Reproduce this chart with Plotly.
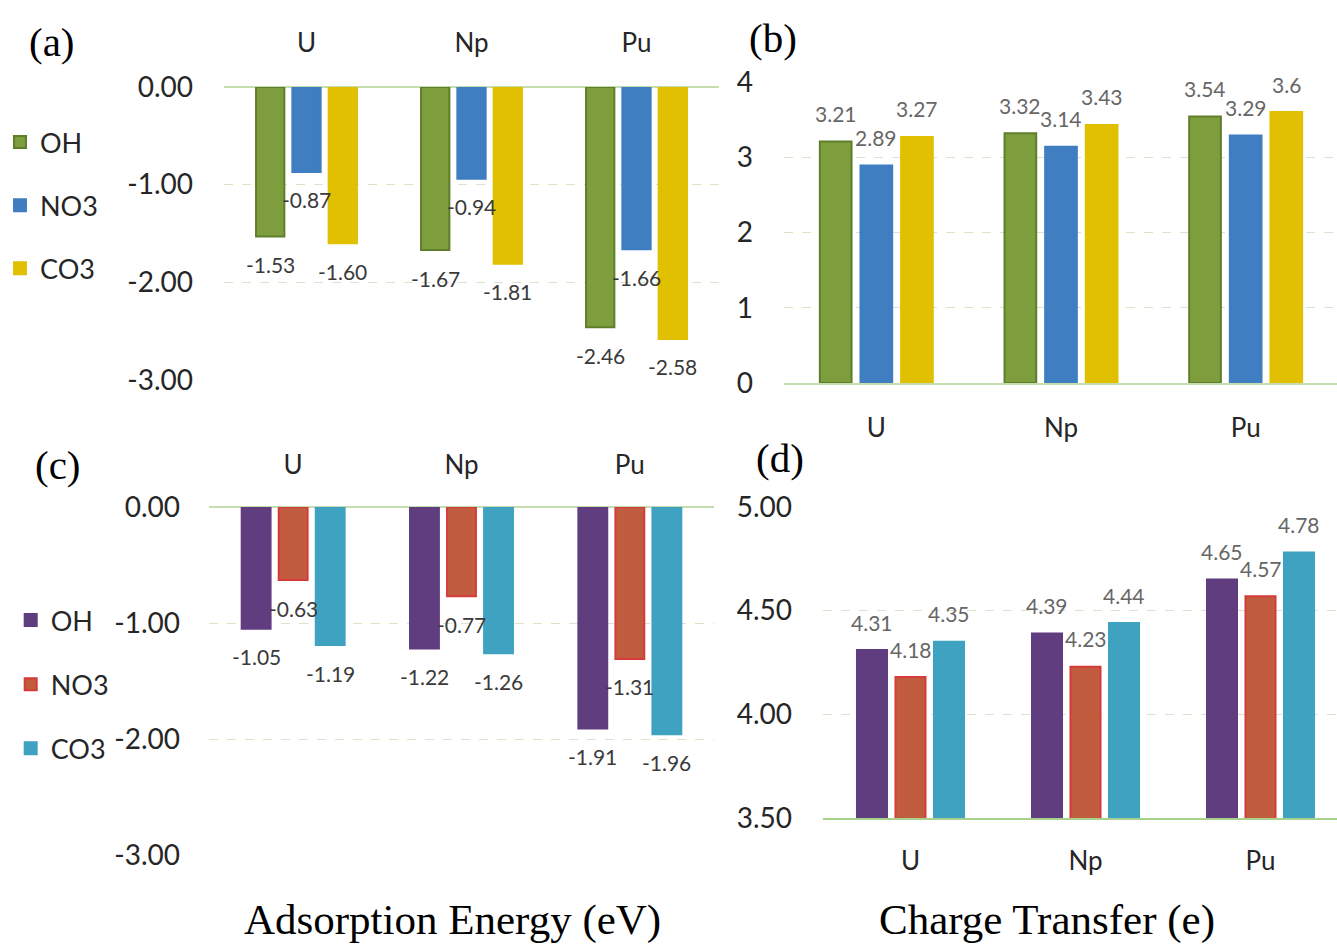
import plotly.graph_objects as go

W, H = 1337, 945

categories = ["U", "Np", "Pu"]
series_names = ["OH", "NO3", "CO3"]

# (a) Adsorption energy, set 1
ads1_OH = [-1.53, -1.67, -2.46]
ads1_NO3 = [-0.87, -0.94, -1.66]
ads1_CO3 = [-1.60, -1.81, -2.58]
# (b) Charge transfer, set 1
ct1_OH = [3.21, 3.32, 3.54]
ct1_NO3 = [2.89, 3.14, 3.29]
ct1_CO3 = [3.27, 3.43, 3.60]
# (c) Adsorption energy, set 2
ads2_OH = [-1.05, -1.22, -1.91]
ads2_NO3 = [-0.63, -0.77, -1.31]
ads2_CO3 = [-1.19, -1.26, -1.96]
# (d) Charge transfer, set 2
ct2_OH = [4.31, 4.39, 4.65]
ct2_NO3 = [4.18, 4.23, 4.57]
ct2_CO3 = [4.35, 4.44, 4.78]

ticks_a = [0, -1, -2, -3]
ticks_a_text = ["0.00", "-1.00", "-2.00", "-3.00"]
ticks_b = [0, 1, 2, 3, 4]
ticks_b_text = ["0", "1", "2", "3", "4"]
ticks_d = [3.5, 4.0, 4.5, 5.0]
ticks_d_text = ["3.50", "4.00", "4.50", "5.00"]

colors1 = ["#7E9E3D", "#3F7EC1", "#E0C000"]
lines1 = ["#5F7E2C", "#3F7EC1", "#E0C000"]
colors2 = ["#5F3D7F", "#C25C3F", "#3FA2C1"]
lines2 = ["#5F3D7F", "#D53B3B", "#3FA2C1"]

SANS = "Lato"
SERIF = "Liberation Serif"
BARGAP = 0.34
BARGROUPGAP = 0.22

# panel pixel boxes: (left, right, top, bottom)
box = {
    "a": (224, 719, 87, 380),
    "b": (784, 1337, 82, 383),
    "c": (209, 714, 507, 855),
    "d": (823, 1337, 507, 818),
}
xranges = {
    "a": [-0.5, 2.5],
    "b": [-0.5, 2.5 - 1 / 185],
    "c": [-0.5, 2.5],
    "d": [-0.5, 2.5 - 11 / 175],
}
spacing = {"a": 165, "b": 185, "c": 168.5, "d": 175}


def xd(k):
    l, r, t, b = box[k]
    return [l / W, r / W]


def yd(k):
    l, r, t, b = box[k]
    return [1 - b / H, 1 - t / H]


fig = go.Figure()

panels = [
    ("a", "x", "y", [ads1_OH, ads1_NO3, ads1_CO3], colors1, lines1, "legend", True),
    ("b", "x2", "y2", [ct1_OH, ct1_NO3, ct1_CO3], colors1, lines1, "legend", False),
    ("c", "x3", "y3", [ads2_OH, ads2_NO3, ads2_CO3], colors2, lines2, "legend2", True),
    ("d", "x4", "y4", [ct2_OH, ct2_NO3, ct2_CO3], colors2, lines2, "legend2", False),
]

annotations = []
for key, xa, ya, data, cols, lcols, leg, show in panels:
    slot = spacing[key] * (1 - BARGAP) / 3
    for i, (name, vals) in enumerate(zip(series_names, data)):
        fig.add_trace(go.Bar(
            x=categories, y=vals, name=name,
            marker=dict(color=cols[i], line=dict(color=lcols[i], width=2)),
            xaxis=xa, yaxis=ya, legend=leg, showlegend=show,
            legendgroup=f"{leg}_{name}",
        ))
        negative = key in ("a", "c")
        for c, v in zip(categories, vals):
            if key == "b":
                txt = f"{v:g}"
            else:
                txt = f"{v:.2f}"
            annotations.append(dict(
                x=c, y=v, xref=xa, yref=ya, text=txt, showarrow=False,
                xshift=(i - 1) * slot, yshift=-28 if negative else 28,
                font=dict(family=SANS, size=21,
                          color="#3A3A3A" if negative else "#666666"),
            ))

grid_color = "#DCE3C8"
base_color = "#C6DDB0"

axis_common = dict(
    type="category", showgrid=False, ticks="", zeroline=False,
    automargin=False,
    tickfont=dict(family=SANS, size=26, color="#262626"),
)
yfont = dict(family=SANS, size=28, color="#262626")

fig.update_layout(
    width=W, height=H,
    margin=dict(l=0, r=0, t=0, b=0, autoexpand=False),
    paper_bgcolor="white", plot_bgcolor="white",
    barmode="group", bargap=BARGAP, bargroupgap=BARGROUPGAP,
    xaxis=dict(axis_common, domain=xd("a"), anchor="y", side="top",
               range=xranges["a"], showline=False, ticklabelstandoff=29),
    xaxis2=dict(axis_common, domain=xd("b"), anchor="y2",
                range=xranges["b"], showline=True, linecolor=base_color,
                linewidth=1.5, ticklabelstandoff=21),
    xaxis3=dict(axis_common, domain=xd("c"), anchor="y3", side="top",
                range=xranges["c"], showline=False, ticklabelstandoff=27),
    xaxis4=dict(axis_common, domain=xd("d"), anchor="y4",
                range=xranges["d"], showline=True, linecolor="#A9D18E",
                linewidth=1.5, ticklabelstandoff=19),
    yaxis=dict(domain=yd("a"), anchor="x", range=[-3, 0], tickvals=ticks_a,
               ticktext=ticks_a_text, automargin=False,
               showgrid=True, gridcolor=grid_color,
               griddash="dash", gridwidth=1, zeroline=True,
               zerolinecolor=base_color, zerolinewidth=1.5,
               tickfont=yfont, ticklabelstandoff=30),
    yaxis2=dict(domain=yd("b"), anchor="x2", range=[0, 4], tickvals=ticks_b,
                ticktext=ticks_b_text, automargin=False,
                showgrid=True, gridcolor=grid_color, griddash="dash",
                zeroline=False, tickfont=yfont, ticklabelstandoff=30),
    yaxis3=dict(domain=yd("c"), anchor="x3", range=[-3, 0], tickvals=ticks_a,
                ticktext=ticks_a_text, automargin=False,
                showgrid=True, gridcolor=grid_color,
                griddash="dash", gridwidth=1, zeroline=True,
                zerolinecolor=base_color, zerolinewidth=1.5,
                tickfont=yfont, ticklabelstandoff=28),
    yaxis4=dict(domain=yd("d"), anchor="x4", range=[3.5, 5], tickvals=ticks_d,
                ticktext=ticks_d_text, automargin=False,
                showgrid=True, gridcolor=grid_color,
                griddash="dash", zeroline=False,
                tickfont=yfont, ticklabelstandoff=30),
    legend=dict(x=0, xanchor="left", y=1 - 118 / H, yanchor="top",
                font=dict(family=SANS, size=27, color="#262626"),
                tracegroupgap=25, bgcolor="rgba(0,0,0,0)"),
    legend2=dict(x=0.008, xanchor="left", y=1 - 596 / H, yanchor="top",
                 font=dict(family=SANS, size=27, color="#262626"),
                 tracegroupgap=26, bgcolor="rgba(0,0,0,0)"),
)

# panel letters and titles
texts = [
    ("(a)", 52, 42, 41),
    ("(b)", 773, 38, 41),
    ("(c)", 58, 465, 41),
    ("(d)", 780, 458, 41),
    ("Adsorption Energy (eV)", 452, 920, 43),
    ("Charge Transfer (e)", 1047, 920, 43),
]
for t, px, py, fs in texts:
    annotations.append(dict(
        x=px / W, y=1 - py / H, xref="paper", yref="paper", text=t,
        showarrow=False, xanchor="center", yanchor="middle",
        font=dict(family=SERIF, size=fs, color="black"),
    ))

fig.update_layout(annotations=annotations)
fig.write_html("out.html")
